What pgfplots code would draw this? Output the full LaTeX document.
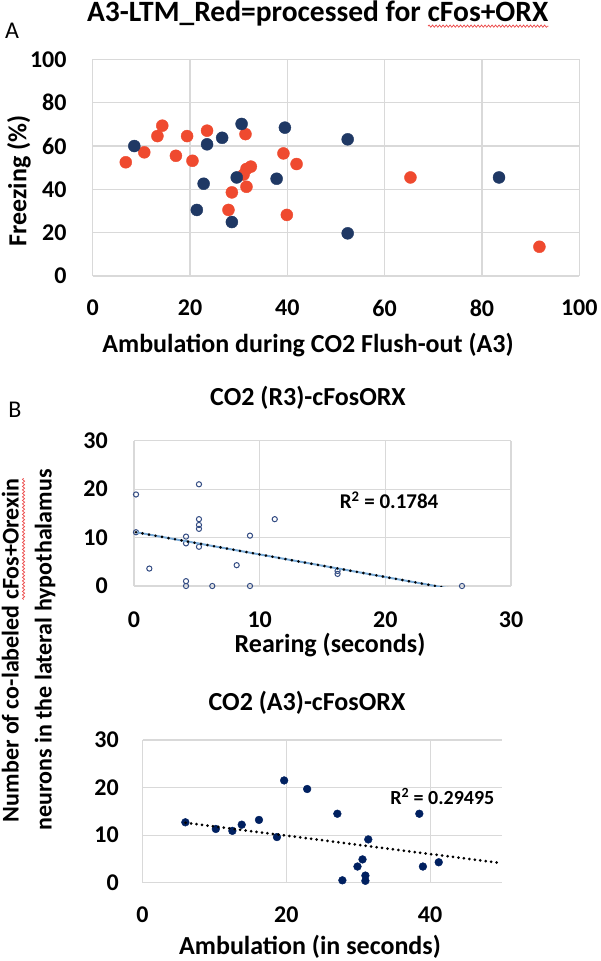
\documentclass[border=0pt]{standalone}
\usepackage{fontspec}
\setmainfont{Carlito}
\usepackage{pgfplots}
\pgfplotsset{compat=1.18}
\usetikzlibrary{decorations.pathmorphing}
\definecolor{navyA}{RGB}{31,56,100}
\definecolor{redA}{RGB}{239,74,47}
\definecolor{gridc}{RGB}{217,217,217}
\definecolor{navyB}{RGB}{0,32,96}
\definecolor{ringB}{RGB}{50,75,130}
\definecolor{trendblue}{RGB}{120,170,215}
\definecolor{squig}{RGB}{235,70,70}
\newsavebox\sqbox
\newcommand{\redwave}[1]{\sbox\sqbox{#1}\usebox\sqbox\kern-\wd\sqbox\begin{tikzpicture}[baseline=0pt]\draw[squig, line width=0.7pt, decorate, decoration={snake, amplitude=1.1pt, segment length=3.5pt}] (0pt,-5pt) -- (\wd\sqbox,-5pt);\end{tikzpicture}}
\pgfplotsset{
 myaxis/.style={
  scale only axis,
  axis line style={draw=none},
  grid=major,
  major grid style={gridc, line width=1.1pt},
  major tick length=0pt,
  tick style={draw=none},
  /pgf/number format/assume math mode=true,
  tick label style={font=\bfseries\fontsize{24}{24}\selectfont, inner sep=0pt},
  xticklabel style={anchor=center},
  yticklabel style={anchor=east},
  clip mode=individual,
 }
}
\begin{document}
\begin{tikzpicture}
\path[use as bounding box] (0,0) rectangle (600pt,-961pt);
% ---------- Chart A ----------
\begin{axis}[myaxis, at={(92.7pt,-276pt)}, anchor=south west,
  width=486.6pt, height=216.6pt,
  xmin=0, xmax=100, ymin=0, ymax=100,
  xtick={0,20,40,60,80,100}, ytick={0,20,40,60,80,100},
  xticklabel style={yshift=-32pt}, yticklabel style={xshift=-26pt}]
\addplot[only marks, mark=*, mark size=6pt, color=redA, mark options={fill=redA, draw=redA}] coordinates {
(6.8,52.5) (10.6,57.1) (13.3,64.6) (14.3,69.4) (17.1,55.5) (19.4,64.6)
(20.5,53.2) (23.5,67.1) (31.4,65.5) (39.2,56.6) (41.9,51.7) (31.6,49.4)
(32.5,50.5) (31.6,41.2) (28.6,38.6) (27.9,30.5) (39.9,28.2) (65.3,45.5)
(91.8,13.5) (31.0,46.8)
};
\addplot[only marks, mark=*, mark size=6pt, color=navyA, mark options={fill=navyA, draw=navyA}] coordinates {
(8.55,60.0) (23.5,60.8) (26.6,63.8) (30.6,70.2) (39.5,68.5) (52.4,63.1)
(22.8,42.6) (29.6,45.5) (37.8,44.9) (21.4,30.5) (28.6,24.9) (52.4,19.7)
(83.5,45.5)
};
\end{axis}
% ---------- Chart B1 ----------
\begin{axis}[myaxis, at={(134pt,-586pt)}, anchor=south west,
  width=377pt, height=145.3pt,
  xmin=0, xmax=30, ymin=0, ymax=30,
  xtick={0,10,20,30}, ytick={0,10,20,30},
  xticklabel style={yshift=-34pt}, yticklabel style={xshift=-26pt}]
\addplot[only marks, mark=o, mark size=2.6pt, color=ringB, mark options={line width=1pt}] coordinates {
(0.16,18.9) (0.16,11.1) (5.17,21.0) (5.17,13.8) (5.17,12.6) (5.17,11.8)
(5.17,8.1) (4.14,10.2) (4.14,8.8) (1.22,3.6) (4.14,1) (4.14,0) (6.23,0)
(9.23,10.4) (9.23,0) (8.17,4.3) (11.2,13.8) (16.2,3.1) (16.2,2.5) (26.1,0)
};
\addplot[no marks, color=trendblue, line width=2pt] coordinates {(0.16,11.1) (26.1,-0.98)};
\addplot[no marks, color=black, line width=2.9pt, line cap=round, dash pattern=on 0pt off 6.6pt] coordinates {(0.16,11.1) (26.1,-0.98)};
\node[font=\bfseries\fontsize{21}{21}\selectfont] at (axis cs:20.3,17.7) {R\textsuperscript{2} = 0.1784};
\end{axis}
% ---------- Chart B2 ----------
\begin{axis}[myaxis, at={(142.5pt,-882.7pt)}, anchor=south west,
  width=359.5pt, height=142.7pt,
  xmin=0, xmax=50, ymin=0, ymax=30,
  xtick={0,20,40}, ytick={0,10,20,30},
  xticklabel style={yshift=-32pt}, yticklabel style={xshift=-23.5pt}]
\addplot[only marks, mark=*, mark size=3.9pt, color=navyB, mark options={fill=navyB, draw=navyB}] coordinates {
(5.96,12.7) (10.2,11.3) (12.5,10.9) (13.8,12.2) (16.2,13.2) (18.7,9.6)
(19.7,21.5) (22.9,19.7) (27.1,14.5) (31.4,9.1) (30.6,4.9) (29.9,3.4)
(27.8,0.5) (31.0,1.5) (31.0,0.4) (38.5,14.5) (39.0,3.4) (41.2,4.3)
};
\addplot[no marks, color=black, line width=3pt, line cap=round, dash pattern=on 0pt off 5.5pt] coordinates {(6,12.6) (50,4.1)};
\node[font=\bfseries\fontsize{20}{20}\selectfont] at (axis cs:41.7,18.1) {R\textsuperscript{2} = 0.29495};
\end{axis}
% ---------- Texts ----------
\node[font=\bfseries\fontsize{29.5}{29.5}\selectfont, inner sep=0pt] at (318pt,-14pt) {A3-LTM\_Red=processed for \redwave{cFos+ORX}};
\node[font=\fontsize{24}{24}\selectfont, inner sep=0pt] at (12pt,-31pt) {A};
\node[font=\bfseries\fontsize{26}{26}\selectfont, inner sep=0pt] at (308pt,-345pt) {Ambulation during CO2 Flush-out (A3)};
\node[font=\bfseries\fontsize{26}{26}\selectfont, inner sep=0pt, rotate=90] at (19pt,-181pt) {Freezing (\%)};
\node[font=\fontsize{24}{24}\selectfont, inner sep=0pt] at (15pt,-410pt) {B};
\node[font=\bfseries\fontsize{26}{26}\selectfont, inner sep=0pt] at (308pt,-398pt) {CO2 (R3)-cFosORX};
\node[font=\bfseries\fontsize{26}{26}\selectfont, inner sep=0pt] at (330pt,-645pt) {Rearing (seconds)};
\node[font=\bfseries\fontsize{26}{26}\selectfont, inner sep=0pt] at (307pt,-703pt) {CO2 (A3)-cFosORX};
\node[font=\bfseries\fontsize{26}{26}\selectfont, inner sep=0pt] at (310pt,-946.7pt) {Ambulation (in seconds)};
\node[font=\bfseries\fontsize{24}{33}\selectfont, inner sep=0pt, rotate=90, align=center] at (28.5pt,-650pt) {Number of co-labeled \redwave{cFos+Orexin}\\neurons in the lateral hypothalamus};
\end{tikzpicture}
\end{document}
